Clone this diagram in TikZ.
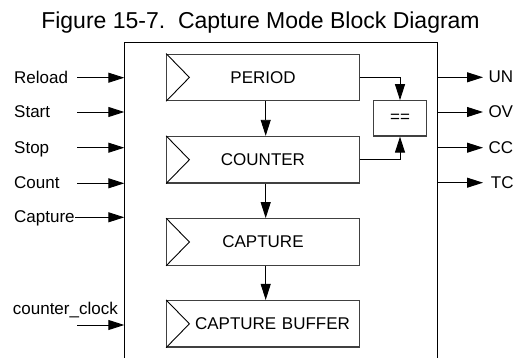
\documentclass[tikz,border=0pt]{standalone}
\usepackage{fontspec}
\setmainfont{Liberation Sans}
\usetikzlibrary{arrows.meta}
\begin{document}
\begin{tikzpicture}[x=1pt,y=-1pt,
  txt/.style={font=\fontsize{17}{20}\selectfont},
  blk/.style={draw=black!75, line width=1.2pt, minimum width=192.6pt, minimum height=46.5pt, inner sep=0pt, txt},
  lbl/.style={anchor=base west, inner sep=0pt, txt},
  conn/.style={line width=0.9pt, -{Triangle[length=16pt,width=10pt]}},
  frame/.style={line width=0.9pt}
]
\useasboundingbox (0,0) rectangle (514,358);
\node[font=\fontsize{23}{27}\selectfont, anchor=base, inner sep=0pt] (title) at (260.5,28.5) {Figure 15-7.\ \ Capture Mode Block Diagram};

% outer frame
\coordinate (fbl) at (124.3,358);
\coordinate (ftl) at (124.3,42.7);
\coordinate (ftr) at (437.7,42.7);
\coordinate (fbr) at (437.7,358);
\draw[frame] (fbl) -- (ftl) -- (ftr) -- (fbr);

% blocks
\node[blk] (period) at (263,77.4) {PERIOD};
\node[blk] (counter) at (263,159.7) {COUNTER};
\node[blk] (capture) at (263,242) {CAPTURE};
\node[blk, text width=192.6pt, align=center] (buffer) at (263,323.8) {\hspace*{19pt}CAPTURE BUFFER};
\foreach \b in {period,counter,capture,buffer}{
  \draw[line width=0.9pt] (\b.north west) -- ([xshift=23.3pt]\b.west) -- (\b.south west);
}
\node[draw=black!75, line width=1.2pt, minimum width=53.4pt, minimum height=35.3pt, inner sep=0pt, txt] (eq) at (400,118.4) {==};

% internal connectors
\draw[conn] ([xshift=2.7pt]period.south) -- ([xshift=2.7pt]counter.north);
\draw[conn] ([xshift=2.7pt]counter.south) -- ([xshift=2.7pt]capture.north);
\draw[conn] ([xshift=2.7pt]capture.south) -- ([xshift=2.7pt]buffer.north);
\draw[conn] (period.east) -| (eq.north);
\draw[conn] (counter.east) -| (eq.south);

% inputs
\foreach \n/\t/\y/\x in {reload/Reload/77.7/77, start/Start/112/77, stop/Stop/147.7/77, count/Count/183.3/77, capt/Capture/217.3/75}{
  \node[lbl] (l\n) at (14,\y+5.5) {\t};
  \coordinate (s\n) at (\x,\y);
  \coordinate (e\n) at (124.3,\y);
  \draw[conn] (s\n) -- (e\n);
}
\node[lbl] (lclk) at (12.7,314) {counter\_clock};
\coordinate (sclk) at (77,325);
\coordinate (eclk) at (124.3,325);
\draw[conn] (sclk) -- (eclk);

% outputs
\foreach \n/\t/\y/\x in {un/UN/77.3/488.3, ov/OV/112/488.3, cc/CC/147.7/488.3, tc/TC/182.7/490.7}{
  \coordinate (s\n) at (437.7,\y);
  \coordinate (e\n) at (483,\y);
  \draw[conn] (s\n) -- (e\n);
  \node[lbl] (l\n) at (\x,\y+5.5) {\t};
}
\end{tikzpicture}
\end{document}
